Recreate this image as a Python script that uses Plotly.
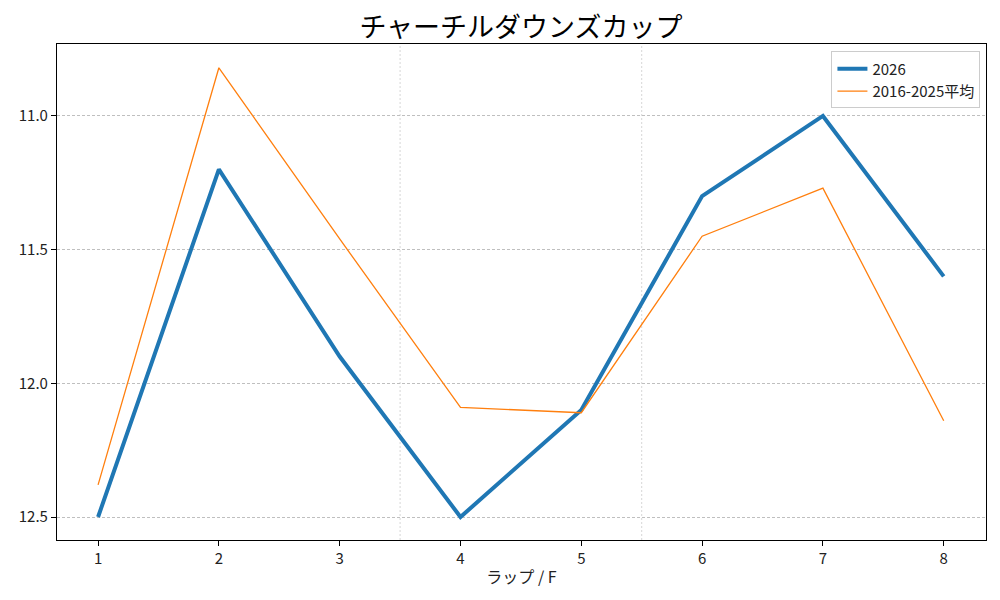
import plotly.graph_objects as go

laps = [1, 2, 3, 4, 5, 6, 7, 8]
y2026 = [12.5, 11.2, 11.9, 12.5, 12.1, 11.3, 11.0, 11.6]
avg = [12.38, 10.82, 11.46, 12.09, 12.11, 11.45, 11.27, 12.14]
yticks = [11.0, 11.5, 12.0, 12.5]
ytick_labels = ["11.0", "11.5", "12.0", "12.5"]
vlines = [3.5, 5.5]

FONT = "Noto Sans CJK JP"

fig = go.Figure()
fig.add_trace(go.Scatter(x=laps, y=y2026, mode="lines", name="2026",
                         line=dict(color="#1f77b4", width=4)))
fig.add_trace(go.Scatter(x=laps, y=avg, mode="lines", name="2016-2025平均",
                         line=dict(color="#ff7f0e", width=1.3)))

for v in vlines:
    fig.add_shape(type="line", xref="x", yref="paper", x0=v, x1=v, y0=0, y1=1,
                  line=dict(color="rgba(190,190,190,0.8)", width=0.8, dash="2px,2px"), layer="below")

fig.update_layout(
    width=1000, height=600,
    paper_bgcolor="white", plot_bgcolor="white",
    margin=dict(l=49, r=22, t=36, b=68, autoexpand=False),
    font=dict(family=FONT, size=15, color="#222"),
    title=dict(text="チャーチルダウンズカップ", x=0.513, xanchor="center", y=0.968, yanchor="middle",
               yref="container", automargin=False,
               font=dict(size=27, family=FONT, color="black")),
    showlegend=True,
    legend=dict(x=0.994, y=0.985, xanchor="right", yanchor="top",
                bordercolor="#cccccc", borderwidth=1, bgcolor="rgba(255,255,255,0.8)",
                font=dict(size=15, family=FONT), tracegroupgap=0),
    xaxis=dict(range=[0.66, 8.35], tickvals=laps, ticktext=[str(l) for l in laps],
               showgrid=False, zeroline=False, showline=True, linecolor="black", linewidth=1.2,
               mirror=True, ticks="outside", ticklen=5, tickcolor="black", automargin=False,
               title=dict(text="ラップ / F", font=dict(size=16, family=FONT), standoff=4)),
    yaxis=dict(range=[12.586, 10.731], tickvals=yticks, ticktext=ytick_labels,
               showgrid=True, gridcolor="rgba(175,175,175,0.8)", griddash="3px,2px", gridwidth=0.7,
               zeroline=False, showline=True, linecolor="black", linewidth=1.2, automargin=False,
               mirror=True, ticks="outside", ticklen=5, tickcolor="black"),
)

fig.write_html("out.html")
